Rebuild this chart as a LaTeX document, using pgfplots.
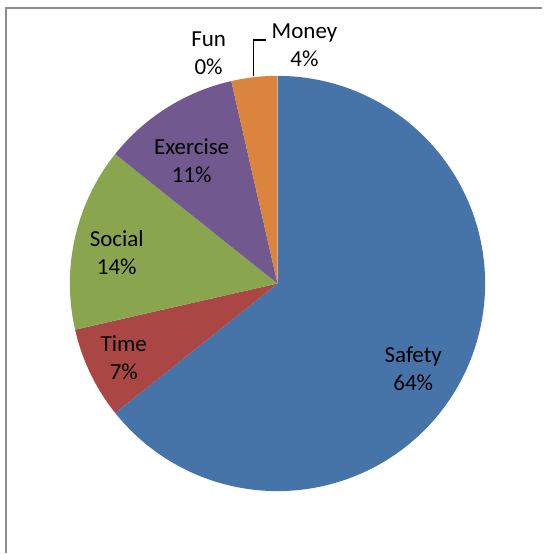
\documentclass[border=0pt]{standalone}
\usepackage{fontspec}
\setmainfont{Carlito}
\usepackage{pgfplots}
\pgfplotsset{compat=1.18}
\definecolor{cSafety}{HTML}{4674A8}
\definecolor{cTime}{HTML}{AA4643}
\definecolor{cSocial}{HTML}{89A54E}
\definecolor{cExercise}{HTML}{71588F}
\definecolor{cMoney}{HTML}{DB843D}
\definecolor{frame}{HTML}{8C8C8C}
\tikzset{lbl/.style={font=\fontsize{23}{28}\selectfont, align=center, anchor=base, text=black, inner sep=0pt}}
% counts: Safety 18, Time 2, Social 4, Exercise 3, Fun 0, Money 1 (total 28)
\begin{document}
\begin{tikzpicture}
\begin{axis}[scale only axis, width=544pt, height=554pt,
  xmin=0, xmax=544, ymin=0, ymax=554,
  hide axis, clip=false]
% Safety 18
\addplot[draw=none, fill=cSafety, domain={90-360*18/28}:90, samples=150]
  ({278+208*cos(x)},{270+208*sin(x)}) -- (278,270) -- cycle;
% Time 2
\addplot[draw=none, fill=cTime, domain={90-360*20/28}:{90-360*18/28}, samples=30]
  ({278+208*cos(x)},{270+208*sin(x)}) -- (278,270) -- cycle;
% Social 4
\addplot[draw=none, fill=cSocial, domain={90-360*24/28}:{90-360*20/28}, samples=50]
  ({278+208*cos(x)},{270+208*sin(x)}) -- (278,270) -- cycle;
% Exercise 3
\addplot[draw=none, fill=cExercise, domain={90-360*27/28}:{90-360*24/28}, samples=40]
  ({278+208*cos(x)},{270+208*sin(x)}) -- (278,270) -- cycle;
% Money 1
\addplot[draw=none, fill=cMoney, domain={90-360*28/28}:{90-360*27/28}, samples=20]
  ({278+208*cos(x)},{270+208*sin(x)}) -- (278,270) -- cycle;
% leader line for Money
\addplot[black, line width=1.3pt] coordinates {(254,478) (254,514) (266,514)};
% chart area frame (left and top edges only)
\addplot[frame, line width=2pt] coordinates {(6,0) (6,546) (543,546)};
\node[lbl] at (414,163) {Safety\\64\%};
\node[lbl] at (124,174) {Time\\7\%};
\node[lbl] at (117,279) {Social\\14\%};
\node[lbl] at (192,371) {Exercise\\11\%};
\node[lbl] at (209,479) {Fun\\0\%};
\node[lbl] at (305,487) {Money\\4\%};
\useasboundingbox (0,0) rectangle (544,554);
\end{axis}
\end{tikzpicture}
\end{document}
